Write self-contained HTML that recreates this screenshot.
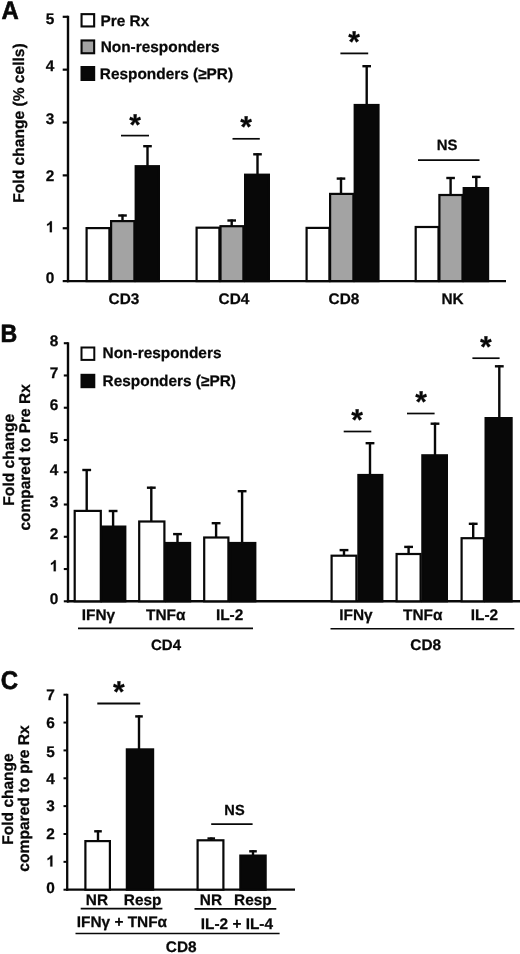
<!DOCTYPE html>
<html><head><meta charset="utf-8"><title>Figure</title>
<style>
html,body{margin:0;padding:0;background:#fff;}
body{width:520px;height:954px;overflow:hidden;}
svg{display:block;will-change:transform;}
svg text{text-rendering:geometricPrecision;font-family:"Liberation Sans",sans-serif;font-weight:bold;fill:#080808;stroke:#080808;stroke-width:0.25px;stroke-linejoin:round;}
</style></head><body>
<svg width="520" height="954" viewBox="0 0 520 954">
<rect x="0" y="0" width="520" height="954" fill="#fff"/>
<text transform="translate(1.4,19.2) scale(0.98,1.04)" font-size="24.4" text-anchor="start" style="stroke-width:0.6px">A</text>
<line x1="68.0" y1="15.8" x2="68.0" y2="282.20000000000005" stroke="#080808" stroke-width="2.4"/>
<line x1="66.9" y1="281.1" x2="506" y2="281.1" stroke="#080808" stroke-width="2.3"/>
<line x1="62.7" y1="281.1" x2="68.0" y2="281.1" stroke="#080808" stroke-width="2.2"/>
<text transform="translate(54.4,283.1) scale(1,1)" font-size="15.4" text-anchor="end" >0</text>
<line x1="62.7" y1="228.24" x2="68.0" y2="228.24" stroke="#080808" stroke-width="2.2"/>
<path transform="translate(45.84,232.20) scale(0.00752,-0.00752)" d="M806 0H525V1059Q371 915 162 846V1101Q272 1137 401 1237.5Q530 1338 578 1472H806Z" fill="#080808" stroke="#080808" stroke-width="24"/>
<line x1="62.7" y1="175.38000000000002" x2="68.0" y2="175.38000000000002" stroke="#080808" stroke-width="2.2"/>
<text transform="translate(54.4,180.7) scale(1,1)" font-size="15.4" text-anchor="end" >2</text>
<line x1="62.7" y1="122.52000000000004" x2="68.0" y2="122.52000000000004" stroke="#080808" stroke-width="2.2"/>
<text transform="translate(54.4,124.4) scale(1,1)" font-size="15.4" text-anchor="end" >3</text>
<line x1="62.7" y1="69.66000000000003" x2="68.0" y2="69.66000000000003" stroke="#080808" stroke-width="2.2"/>
<text transform="translate(54.4,70.5) scale(1,1)" font-size="15.4" text-anchor="end" >4</text>
<line x1="62.7" y1="16.80000000000001" x2="68.0" y2="16.80000000000001" stroke="#080808" stroke-width="2.2"/>
<text transform="translate(54.4,24.0) scale(1,1)" font-size="15.4" text-anchor="end" >5</text>
<text transform="translate(23.5,123.0) rotate(-90) scale(1,1)" font-size="15.6" text-anchor="middle">Fold change (% cells)</text>
<rect x="81.55" y="14.15" width="12.60" height="12.30" fill="#fff" stroke="#080808" stroke-width="2.1"/>
<text transform="translate(100.5,26.4) scale(1,1)" font-size="15.4" text-anchor="start" >Pre Rx</text>
<rect x="81.55" y="40.45" width="12.60" height="12.80" fill="#a3a3a3" stroke="#080808" stroke-width="2.1"/>
<text transform="translate(100.7,52.15) scale(1,1)" font-size="15.4" text-anchor="start" >Non-responders</text>
<rect x="81.55" y="67.05" width="12.60" height="12.90" fill="#080808" stroke="#080808" stroke-width="2.1"/>
<text transform="translate(99.8,79.3) scale(1,1)" font-size="15.4" text-anchor="start" >Responders (≥PR)</text>
<line x1="122.5" y1="214.5" x2="122.5" y2="221.5" stroke="#080808" stroke-width="2.4"/>
<line x1="118.2" y1="215.5" x2="126.8" y2="215.5" stroke="#080808" stroke-width="2.4"/>
<line x1="147.5" y1="145.2" x2="147.5" y2="166.5" stroke="#080808" stroke-width="2.4"/>
<line x1="143.2" y1="146.2" x2="151.8" y2="146.2" stroke="#080808" stroke-width="2.4"/>
<line x1="231.7" y1="219.5" x2="231.7" y2="226.5" stroke="#080808" stroke-width="2.4"/>
<line x1="227.39999999999998" y1="220.5" x2="236.0" y2="220.5" stroke="#080808" stroke-width="2.4"/>
<line x1="257.5" y1="153.3" x2="257.5" y2="175" stroke="#080808" stroke-width="2.4"/>
<line x1="253.2" y1="154.3" x2="261.8" y2="154.3" stroke="#080808" stroke-width="2.4"/>
<line x1="341" y1="177.6" x2="341" y2="194.25" stroke="#080808" stroke-width="2.4"/>
<line x1="336.7" y1="178.6" x2="345.3" y2="178.6" stroke="#080808" stroke-width="2.4"/>
<line x1="366.7" y1="65.2" x2="366.7" y2="105.5" stroke="#080808" stroke-width="2.4"/>
<line x1="362.4" y1="66.2" x2="371.0" y2="66.2" stroke="#080808" stroke-width="2.4"/>
<line x1="450.6" y1="177.0" x2="450.6" y2="196" stroke="#080808" stroke-width="2.4"/>
<line x1="446.3" y1="178.0" x2="454.90000000000003" y2="178.0" stroke="#080808" stroke-width="2.4"/>
<line x1="476.3" y1="175.9" x2="476.3" y2="189" stroke="#080808" stroke-width="2.4"/>
<line x1="472.0" y1="176.9" x2="480.6" y2="176.9" stroke="#080808" stroke-width="2.4"/>
<rect x="86.60" y="228.10" width="22.80" height="53.00" fill="#fff" stroke="#080808" stroke-width="2.2"/>
<rect x="111.10" y="221.10" width="23.30" height="60.00" fill="#a3a3a3" stroke="#080808" stroke-width="2.2"/>
<rect x="135.70" y="166.20" width="23.20" height="114.90" fill="#080808" stroke="#080808" stroke-width="2.2"/>
<rect x="196.60" y="227.70" width="22.80" height="53.40" fill="#fff" stroke="#080808" stroke-width="2.2"/>
<rect x="220.50" y="226.20" width="22.90" height="54.90" fill="#a3a3a3" stroke="#080808" stroke-width="2.2"/>
<rect x="245.10" y="174.70" width="23.80" height="106.40" fill="#080808" stroke="#080808" stroke-width="2.2"/>
<rect x="306.60" y="227.90" width="22.80" height="53.20" fill="#fff" stroke="#080808" stroke-width="2.2"/>
<rect x="330.10" y="193.90" width="23.30" height="87.20" fill="#a3a3a3" stroke="#080808" stroke-width="2.2"/>
<rect x="354.70" y="105.00" width="23.80" height="176.10" fill="#080808" stroke="#080808" stroke-width="2.2"/>
<rect x="415.70" y="227.00" width="22.80" height="54.10" fill="#fff" stroke="#080808" stroke-width="2.2"/>
<rect x="439.40" y="195.00" width="23.10" height="86.10" fill="#a3a3a3" stroke="#080808" stroke-width="2.2"/>
<rect x="463.70" y="188.10" width="24.40" height="93.00" fill="#080808" stroke="#080808" stroke-width="2.2"/>
<line x1="121" y1="135.6" x2="149" y2="135.6" stroke="#080808" stroke-width="1.7"/>
<text x="135.2" y="134.80" font-size="30" text-anchor="middle">*</text>
<line x1="232.5" y1="138.8" x2="259.8" y2="138.8" stroke="#080808" stroke-width="1.7"/>
<text x="246.2" y="137.30" font-size="30" text-anchor="middle">*</text>
<line x1="340.4" y1="53.4" x2="368.2" y2="53.4" stroke="#080808" stroke-width="1.8"/>
<text x="354.2" y="52.30" font-size="30" text-anchor="middle">*</text>
<line x1="418" y1="160.2" x2="479.5" y2="160.2" stroke="#080808" stroke-width="1.8"/>
<text transform="translate(447,149.9) scale(1,1)" font-size="14.9" text-anchor="middle" >NS</text>
<text transform="translate(124,304) scale(1,1)" font-size="15.4" text-anchor="middle" >CD3</text>
<text transform="translate(234,304) scale(1,1)" font-size="15.4" text-anchor="middle" >CD4</text>
<text transform="translate(344,304) scale(1,1)" font-size="15.4" text-anchor="middle" >CD8</text>
<text transform="translate(452.5,304) scale(1,1)" font-size="15.4" text-anchor="middle" >NK</text>
<text transform="translate(0.6,341.7) scale(0.95,1.03)" font-size="24.4" text-anchor="start" style="stroke-width:0.6px">B</text>
<line x1="68.0" y1="342.3" x2="68.0" y2="602.4" stroke="#080808" stroke-width="2.4"/>
<line x1="66.9" y1="601.3" x2="520" y2="601.3" stroke="#080808" stroke-width="2.4"/>
<line x1="63.8" y1="601.3" x2="68.0" y2="601.3" stroke="#080808" stroke-width="2.1"/>
<text transform="translate(58.3,603.5) scale(1,1)" font-size="15.4" text-anchor="end" >0</text>
<line x1="63.8" y1="569.04" x2="68.0" y2="569.04" stroke="#080808" stroke-width="2.1"/>
<path transform="translate(49.74,571.31) scale(0.00752,-0.00752)" d="M806 0H525V1059Q371 915 162 846V1101Q272 1137 401 1237.5Q530 1338 578 1472H806Z" fill="#080808" stroke="#080808" stroke-width="24"/>
<line x1="63.8" y1="536.78" x2="68.0" y2="536.78" stroke="#080808" stroke-width="2.1"/>
<text transform="translate(58.3,539.12) scale(1,1)" font-size="15.4" text-anchor="end" >2</text>
<line x1="63.8" y1="504.52" x2="68.0" y2="504.52" stroke="#080808" stroke-width="2.1"/>
<text transform="translate(58.3,506.93) scale(1,1)" font-size="15.4" text-anchor="end" >3</text>
<line x1="63.8" y1="472.26" x2="68.0" y2="472.26" stroke="#080808" stroke-width="2.1"/>
<text transform="translate(58.3,474.74) scale(1,1)" font-size="15.4" text-anchor="end" >4</text>
<line x1="63.8" y1="440.0" x2="68.0" y2="440.0" stroke="#080808" stroke-width="2.1"/>
<text transform="translate(58.3,442.55) scale(1,1)" font-size="15.4" text-anchor="end" >5</text>
<line x1="63.8" y1="407.73999999999995" x2="68.0" y2="407.73999999999995" stroke="#080808" stroke-width="2.1"/>
<text transform="translate(58.3,410.36) scale(1,1)" font-size="15.4" text-anchor="end" >6</text>
<line x1="63.8" y1="375.47999999999996" x2="68.0" y2="375.47999999999996" stroke="#080808" stroke-width="2.1"/>
<text transform="translate(58.3,378.17) scale(1,1)" font-size="15.4" text-anchor="end" >7</text>
<line x1="63.8" y1="343.21999999999997" x2="68.0" y2="343.21999999999997" stroke="#080808" stroke-width="2.1"/>
<text transform="translate(58.3,345.98) scale(1,1)" font-size="15.4" text-anchor="end" >8</text>
<text transform="translate(13.9,459.75) rotate(-90) scale(1,1)" font-size="15.6" text-anchor="middle">Fold change</text>
<text transform="translate(29.5,457.4) rotate(-90) scale(1,1)" font-size="15.5" text-anchor="middle">compared to Pre Rx</text>
<rect x="81.50" y="347.50" width="12.80" height="12.40" fill="#fff" stroke="#080808" stroke-width="2.0"/>
<text transform="translate(102.6,357.8) scale(1,1)" font-size="15.4" text-anchor="start" >Non-responders</text>
<rect x="81.50" y="374.80" width="12.80" height="12.40" fill="#080808" stroke="#080808" stroke-width="2.0"/>
<text transform="translate(102.6,386.4) scale(1,1)" font-size="15.4" text-anchor="start" >Responders (≥PR)</text>
<line x1="86.7" y1="469.0" x2="86.7" y2="511.0" stroke="#080808" stroke-width="2.4"/>
<line x1="82.3" y1="470.0" x2="91.10000000000001" y2="470.0" stroke="#080808" stroke-width="2.4"/>
<line x1="113.1" y1="510.0" x2="113.1" y2="526.5" stroke="#080808" stroke-width="2.4"/>
<line x1="108.69999999999999" y1="511.0" x2="117.5" y2="511.0" stroke="#080808" stroke-width="2.4"/>
<line x1="151.3" y1="486.7" x2="151.3" y2="521.4" stroke="#080808" stroke-width="2.4"/>
<line x1="146.9" y1="487.7" x2="155.70000000000002" y2="487.7" stroke="#080808" stroke-width="2.4"/>
<line x1="177.5" y1="533.1" x2="177.5" y2="542.9" stroke="#080808" stroke-width="2.4"/>
<line x1="173.1" y1="534.1" x2="181.9" y2="534.1" stroke="#080808" stroke-width="2.4"/>
<line x1="216.1" y1="522.2" x2="216.1" y2="538.0" stroke="#080808" stroke-width="2.4"/>
<line x1="211.7" y1="523.2" x2="220.5" y2="523.2" stroke="#080808" stroke-width="2.4"/>
<line x1="242.1" y1="490.2" x2="242.1" y2="542.9" stroke="#080808" stroke-width="2.4"/>
<line x1="237.7" y1="491.2" x2="246.5" y2="491.2" stroke="#080808" stroke-width="2.4"/>
<line x1="344.0" y1="549.1" x2="344.0" y2="556" stroke="#080808" stroke-width="2.4"/>
<line x1="339.6" y1="550.1" x2="348.4" y2="550.1" stroke="#080808" stroke-width="2.4"/>
<line x1="370" y1="442.2" x2="370" y2="475.25" stroke="#080808" stroke-width="2.4"/>
<line x1="365.6" y1="443.2" x2="374.4" y2="443.2" stroke="#080808" stroke-width="2.4"/>
<line x1="408.6" y1="545.9" x2="408.6" y2="554.25" stroke="#080808" stroke-width="2.4"/>
<line x1="404.20000000000005" y1="546.9" x2="413.0" y2="546.9" stroke="#080808" stroke-width="2.4"/>
<line x1="435" y1="422.7" x2="435" y2="455.5" stroke="#080808" stroke-width="2.4"/>
<line x1="430.6" y1="423.7" x2="439.4" y2="423.7" stroke="#080808" stroke-width="2.4"/>
<line x1="473.2" y1="522.8" x2="473.2" y2="538.5" stroke="#080808" stroke-width="2.4"/>
<line x1="468.8" y1="523.8" x2="477.59999999999997" y2="523.8" stroke="#080808" stroke-width="2.4"/>
<line x1="499.3" y1="365.3" x2="499.3" y2="418" stroke="#080808" stroke-width="2.4"/>
<line x1="494.90000000000003" y1="366.3" x2="503.7" y2="366.3" stroke="#080808" stroke-width="2.4"/>
<rect x="74.70" y="510.90" width="26.10" height="90.40" fill="#fff" stroke="#080808" stroke-width="2.2"/>
<rect x="101.60" y="526.60" width="23.70" height="74.70" fill="#080808" stroke="#080808" stroke-width="2.2"/>
<rect x="139.20" y="521.50" width="25.20" height="79.80" fill="#fff" stroke="#080808" stroke-width="2.2"/>
<rect x="166.10" y="543.00" width="24.00" height="58.30" fill="#080808" stroke="#080808" stroke-width="2.2"/>
<rect x="204.20" y="537.50" width="24.20" height="63.80" fill="#fff" stroke="#080808" stroke-width="2.2"/>
<rect x="230.10" y="543.00" width="25.20" height="58.30" fill="#080808" stroke="#080808" stroke-width="2.2"/>
<rect x="331.60" y="555.70" width="24.80" height="45.60" fill="#fff" stroke="#080808" stroke-width="2.2"/>
<rect x="358.40" y="475.00" width="23.90" height="126.30" fill="#080808" stroke="#080808" stroke-width="2.2"/>
<rect x="396.60" y="554.00" width="24.00" height="47.30" fill="#fff" stroke="#080808" stroke-width="2.2"/>
<rect x="422.35" y="455.30" width="24.55" height="146.00" fill="#080808" stroke="#080808" stroke-width="2.2"/>
<rect x="461.60" y="538.20" width="22.30" height="63.10" fill="#fff" stroke="#080808" stroke-width="2.2"/>
<rect x="485.60" y="418.10" width="26.00" height="183.20" fill="#080808" stroke="#080808" stroke-width="2.2"/>
<line x1="343.7" y1="431.5" x2="371.3" y2="431.5" stroke="#080808" stroke-width="1.7"/>
<text x="357.2" y="430.20" font-size="30" text-anchor="middle">*</text>
<line x1="407" y1="413.5" x2="434.6" y2="413.5" stroke="#080808" stroke-width="1.7"/>
<text x="421" y="412.30" font-size="30" text-anchor="middle">*</text>
<line x1="472.4" y1="358.2" x2="499.6" y2="358.2" stroke="#080808" stroke-width="1.7"/>
<text x="485.8" y="357.00" font-size="30" text-anchor="middle">*</text>
<text transform="translate(98.5,620.3) scale(1,1)" font-size="15.4" text-anchor="middle" >IFNγ</text>
<text transform="translate(165.7,620.3) scale(1,1)" font-size="15.4" text-anchor="middle" >TNFα</text>
<text transform="translate(229.6,620.3) scale(1,1)" font-size="15.4" text-anchor="middle" >IL-2</text>
<text transform="translate(356,620.3) scale(1,1)" font-size="15.4" text-anchor="middle" >IFNγ</text>
<text transform="translate(422.7,620.3) scale(1,1)" font-size="15.4" text-anchor="middle" >TNFα</text>
<text transform="translate(484.4,620.3) scale(1,1)" font-size="15.4" text-anchor="middle" >IL-2</text>
<line x1="78.0" y1="628.4" x2="253" y2="628.4" stroke="#080808" stroke-width="1.7"/>
<line x1="330.5" y1="628.8" x2="514.3" y2="628.8" stroke="#080808" stroke-width="1.6"/>
<text transform="translate(166,649.8) scale(1,1)" font-size="15.0" text-anchor="middle" >CD4</text>
<text transform="translate(425.7,649.6) scale(1,1)" font-size="15.4" text-anchor="middle" >CD8</text>
<text transform="translate(0.8,688.7) scale(0.985,1.05)" font-size="24.4" text-anchor="start" style="stroke-width:0.6px">C</text>
<line x1="67.2" y1="693.8" x2="67.2" y2="890.8000000000001" stroke="#080808" stroke-width="2.3"/>
<line x1="66.10000000000001" y1="889.7" x2="295" y2="889.7" stroke="#080808" stroke-width="2.2"/>
<line x1="63.5" y1="889.7" x2="67.2" y2="889.7" stroke="#080808" stroke-width="2.0"/>
<text transform="translate(54.9,893.3) scale(1,1)" font-size="15.4" text-anchor="end" >0</text>
<line x1="63.5" y1="861.8430000000001" x2="67.2" y2="861.8430000000001" stroke="#080808" stroke-width="2.0"/>
<path transform="translate(46.34,866.50) scale(0.00752,-0.00752)" d="M806 0H525V1059Q371 915 162 846V1101Q272 1137 401 1237.5Q530 1338 578 1472H806Z" fill="#080808" stroke="#080808" stroke-width="24"/>
<line x1="63.5" y1="833.9860000000001" x2="67.2" y2="833.9860000000001" stroke="#080808" stroke-width="2.0"/>
<text transform="translate(54.9,839.4) scale(1,1)" font-size="15.4" text-anchor="end" >2</text>
<line x1="63.5" y1="806.129" x2="67.2" y2="806.129" stroke="#080808" stroke-width="2.0"/>
<text transform="translate(54.9,811.3) scale(1,1)" font-size="15.4" text-anchor="end" >3</text>
<line x1="63.5" y1="778.272" x2="67.2" y2="778.272" stroke="#080808" stroke-width="2.0"/>
<text transform="translate(54.9,784.2) scale(1,1)" font-size="15.4" text-anchor="end" >4</text>
<line x1="63.5" y1="750.4150000000001" x2="67.2" y2="750.4150000000001" stroke="#080808" stroke-width="2.0"/>
<text transform="translate(54.9,756.5) scale(1,1)" font-size="15.4" text-anchor="end" >5</text>
<line x1="63.5" y1="722.558" x2="67.2" y2="722.558" stroke="#080808" stroke-width="2.0"/>
<text transform="translate(54.9,728.1) scale(1,1)" font-size="15.4" text-anchor="end" >6</text>
<line x1="63.5" y1="694.701" x2="67.2" y2="694.701" stroke="#080808" stroke-width="2.0"/>
<text transform="translate(54.9,699.5) scale(1,1)" font-size="15.4" text-anchor="end" >7</text>
<text transform="translate(12.7,799.0) rotate(-90) scale(1,1)" font-size="15.5" text-anchor="middle">Fold change</text>
<text transform="translate(28.5,798.45) rotate(-90) scale(1,1)" font-size="15.6" text-anchor="middle">compared to pre Rx</text>
<line x1="98" y1="830.3" x2="98" y2="841.75" stroke="#080808" stroke-width="2.4"/>
<line x1="94.2" y1="831.3" x2="101.8" y2="831.3" stroke="#080808" stroke-width="2.4"/>
<line x1="139" y1="715.4" x2="139" y2="750" stroke="#080808" stroke-width="2.4"/>
<line x1="135.2" y1="716.4" x2="142.8" y2="716.4" stroke="#080808" stroke-width="2.4"/>
<line x1="211.25" y1="837.5" x2="211.25" y2="840.75" stroke="#080808" stroke-width="2.4"/>
<line x1="207.45" y1="838.5" x2="215.05" y2="838.5" stroke="#080808" stroke-width="2.4"/>
<line x1="253" y1="850.3" x2="253" y2="855.75" stroke="#080808" stroke-width="2.4"/>
<line x1="249.2" y1="851.3" x2="256.8" y2="851.3" stroke="#080808" stroke-width="2.4"/>
<rect x="85.40" y="841.10" width="24.50" height="48.60" fill="#fff" stroke="#080808" stroke-width="2.2"/>
<rect x="126.85" y="749.40" width="26.25" height="140.30" fill="#080808" stroke="#080808" stroke-width="2.2"/>
<rect x="197.60" y="840.30" width="25.80" height="49.40" fill="#fff" stroke="#080808" stroke-width="2.2"/>
<rect x="240.35" y="855.60" width="25.30" height="34.10" fill="#080808" stroke="#080808" stroke-width="2.2"/>
<line x1="97.3" y1="703.5" x2="140.2" y2="703.5" stroke="#080808" stroke-width="1.8"/>
<text x="118.8" y="701.80" font-size="30" text-anchor="middle">*</text>
<line x1="211.2" y1="824.2" x2="252.6" y2="824.2" stroke="#080808" stroke-width="1.7"/>
<text transform="translate(234.5,814.6) scale(1,1)" font-size="14.6" text-anchor="middle" >NS</text>
<text transform="translate(96.9,905.1) scale(1,1)" font-size="15.4" text-anchor="middle" >NR</text>
<text transform="translate(142.6,905.1) scale(1,1)" font-size="15.4" text-anchor="middle" >Resp</text>
<text transform="translate(210.9,905.1) scale(1,1)" font-size="15.4" text-anchor="middle" >NR</text>
<text transform="translate(252.9,905.1) scale(1,1)" font-size="15.4" text-anchor="middle" >Resp</text>
<line x1="80.7" y1="908.6" x2="162.4" y2="908.6" stroke="#080808" stroke-width="1.7"/>
<line x1="194.5" y1="908.8" x2="276.3" y2="908.8" stroke="#080808" stroke-width="1.7"/>
<text transform="translate(121.9,927.2) scale(1,1)" font-size="15.4" text-anchor="middle" >IFNγ + TNFα</text>
<text transform="translate(236.9,928.8) scale(1,1)" font-size="15.4" text-anchor="middle" >IL-2 + IL-4</text>
<line x1="75.5" y1="933.5" x2="279.6" y2="933.5" stroke="#080808" stroke-width="1.7"/>
<text transform="translate(181.2,951.8) scale(1,1)" font-size="15.4" text-anchor="middle" >CD8</text>
</svg>
</body></html>
